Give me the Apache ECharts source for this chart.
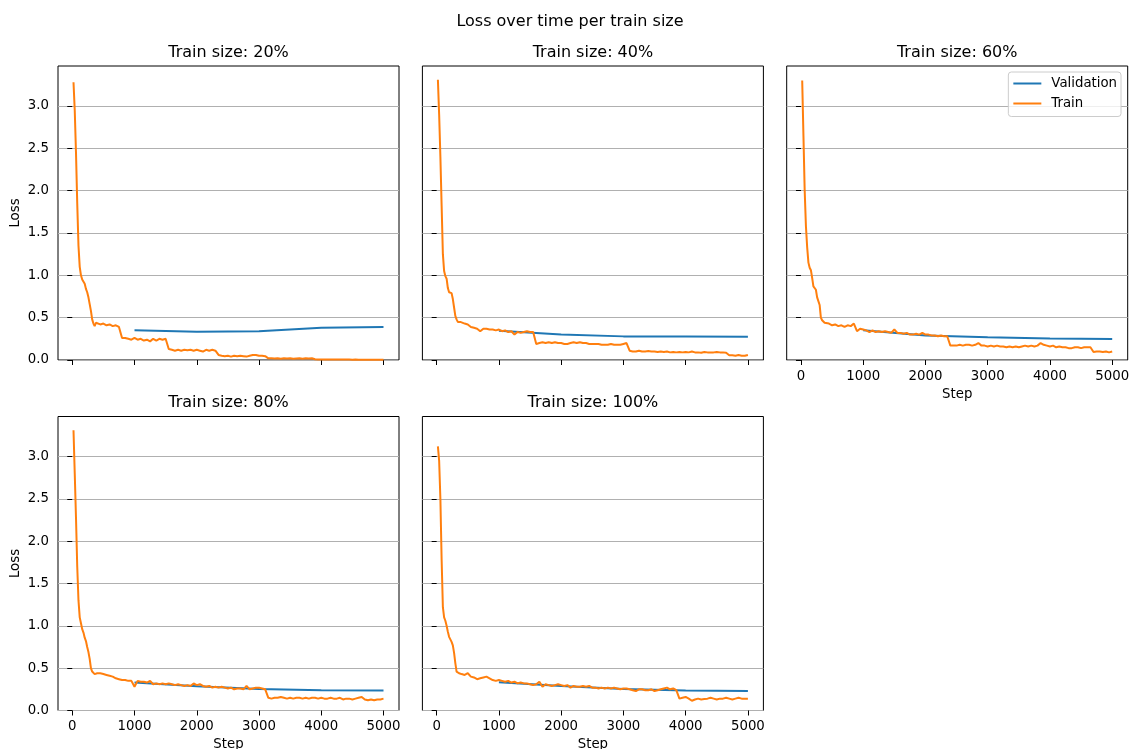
<!DOCTYPE html>
<html>
<head>
<meta charset="utf-8">
<title>Loss over time per train size</title>
<script src="https://cdn.jsdelivr.net/npm/echarts@6.0.0/dist/echarts.min.js"></script>
<style>
  html, body { margin: 0; padding: 0; background: #ffffff; }
  #chart { width: 1130px; height: 749px; }
</style>
</head>
<body>
<div id="chart"></div>
<script>
// Training steps at which the train loss was logged
const trainSteps = [
  20, 40, 60, 80, 100, 120, 140, 160, 180, 200,
  220, 240, 260, 280, 300, 320, 340, 360, 380, 400,
  450, 500, 550, 600, 650, 700, 750, 800, 850, 900,
  950, 1000, 1050, 1100, 1150, 1200, 1250, 1300, 1350, 1400,
  1450, 1500, 1550, 1600, 1650, 1700, 1750, 1800, 1850, 1900,
  1950, 2000, 2050, 2100, 2150, 2200, 2250, 2300, 2350, 2400,
  2450, 2500, 2550, 2600, 2650, 2700, 2750, 2800, 2850, 2900,
  2950, 3000, 3050, 3100, 3150, 3200, 3250, 3300, 3350, 3400,
  3450, 3500, 3550, 3600, 3650, 3700, 3750, 3800, 3850, 3900,
  3950, 4000, 4050, 4100, 4150, 4200, 4250, 4300, 4350, 4400,
  4450, 4500, 4550, 4600, 4650, 4700, 4750, 4800, 4850, 4900,
  4950, 5000
];

// Steps at which validation loss was evaluated
const valSteps = [1000, 2000, 3000, 4000, 5000];

const trainSizes = ['20%', '40%', '60%', '80%', '100%'];

const train20 = [
  3.28, 2.95, 2.45, 1.85, 1.35, 1.10, 1.00, 0.95, 0.93, 0.90,
  0.84, 0.80, 0.74, 0.66, 0.58, 0.48, 0.43, 0.40, 0.44, 0.45,
  0.42, 0.43, 0.41, 0.42, 0.40, 0.41, 0.39, 0.26, 0.26, 0.25,
  0.24, 0.26, 0.24, 0.25, 0.23, 0.24, 0.22, 0.25, 0.23, 0.25,
  0.24, 0.25, 0.13, 0.12, 0.11, 0.12, 0.11, 0.12, 0.115, 0.12,
  0.11, 0.12, 0.11, 0.10, 0.12, 0.11, 0.12, 0.11, 0.06, 0.05,
  0.045, 0.05, 0.04, 0.05, 0.045, 0.05, 0.045, 0.04, 0.05, 0.06,
  0.06, 0.05, 0.05, 0.045, 0.02, 0.02, 0.018, 0.02, 0.015, 0.02,
  0.018, 0.02, 0.015, 0.018, 0.02, 0.015, 0.02, 0.018, 0.02, 0.008,
  0.006, 0.007, 0.005, 0.006, 0.005, 0.006, 0.005, 0.005, 0.006, 0.005,
  0.005, 0.004, 0.005, 0.004, 0.004, 0.004, 0.004, 0.003, 0.004, 0.003,
  0.003, 0.003
];
const train40 = [
  3.31, 2.90, 2.40, 1.82, 1.25, 1.05, 0.99, 0.96, 0.85, 0.80,
  0.82, 0.79, 0.72, 0.62, 0.52, 0.48, 0.45, 0.44, 0.45, 0.47,
  0.43, 0.42, 0.39, 0.38, 0.37, 0.34, 0.37, 0.37, 0.36, 0.36,
  0.35, 0.36, 0.34, 0.35, 0.33, 0.34, 0.30, 0.33, 0.32, 0.33,
  0.34, 0.33, 0.33, 0.19, 0.20, 0.21, 0.20, 0.21, 0.20, 0.21,
  0.20, 0.20, 0.19, 0.19, 0.20, 0.21, 0.20, 0.21, 0.20, 0.20,
  0.19, 0.19, 0.19, 0.19, 0.18, 0.18, 0.18, 0.19, 0.18, 0.18,
  0.18, 0.19, 0.20, 0.11, 0.10, 0.10, 0.11, 0.10, 0.10, 0.105,
  0.10, 0.10, 0.095, 0.10, 0.095, 0.10, 0.09, 0.095, 0.09, 0.095,
  0.09, 0.095, 0.09, 0.10, 0.09, 0.09, 0.085, 0.095, 0.09, 0.09,
  0.09, 0.095, 0.09, 0.09, 0.085, 0.055, 0.055, 0.05, 0.06, 0.05,
  0.05, 0.06
];
const train60 = [
  3.30, 2.65, 2.00, 1.58, 1.33, 1.15, 1.09, 1.06, 0.97, 0.87,
  0.86, 0.83, 0.74, 0.73, 0.65, 0.50, 0.47, 0.45, 0.44, 0.46,
  0.43, 0.41, 0.42, 0.40, 0.41, 0.39, 0.41, 0.40, 0.43, 0.34,
  0.37, 0.36, 0.35, 0.33, 0.35, 0.33, 0.34, 0.33, 0.34, 0.33,
  0.32, 0.36, 0.32, 0.32, 0.31, 0.32, 0.30, 0.30, 0.31, 0.30,
  0.32, 0.30, 0.30, 0.29, 0.29, 0.28, 0.29, 0.28, 0.28, 0.17,
  0.17, 0.17, 0.18, 0.17, 0.18, 0.18, 0.17, 0.18, 0.20, 0.17,
  0.17, 0.16, 0.17, 0.16, 0.17, 0.16, 0.16, 0.15, 0.16, 0.15,
  0.16, 0.15, 0.16, 0.17, 0.16, 0.17, 0.16, 0.17, 0.20, 0.18,
  0.17, 0.16, 0.17, 0.15, 0.16, 0.15, 0.15, 0.14, 0.14, 0.15,
  0.15, 0.14, 0.15, 0.15, 0.15, 0.095, 0.10, 0.10, 0.095, 0.10,
  0.09, 0.10
];
const train80 = [
  3.31, 2.80, 2.28, 1.70, 1.30, 1.10, 1.03, 0.96, 0.92, 0.86,
  0.82, 0.75, 0.69, 0.61, 0.50, 0.46, 0.44, 0.43, 0.43, 0.44,
  0.44, 0.43, 0.42, 0.41, 0.40, 0.38, 0.37, 0.36, 0.36, 0.35,
  0.35, 0.28, 0.35, 0.34, 0.34, 0.33, 0.35, 0.31, 0.32, 0.31,
  0.32, 0.31, 0.32, 0.31, 0.30, 0.31, 0.30, 0.29, 0.30, 0.29,
  0.32, 0.30, 0.31, 0.29, 0.28, 0.29, 0.27, 0.28, 0.27, 0.28,
  0.27, 0.26, 0.27, 0.25, 0.26, 0.26, 0.25, 0.29, 0.25, 0.26,
  0.27, 0.27, 0.26, 0.25, 0.15, 0.14, 0.15, 0.15, 0.16, 0.15,
  0.14, 0.15, 0.14, 0.15, 0.15, 0.14, 0.15, 0.14, 0.15, 0.15,
  0.14, 0.15, 0.14, 0.14, 0.15, 0.14, 0.14, 0.15, 0.13, 0.14,
  0.14, 0.13, 0.14, 0.15, 0.16, 0.13, 0.12, 0.13, 0.12, 0.13,
  0.13, 0.14
];
const train100 = [
  3.12, 2.95, 2.50, 1.78, 1.22, 1.10, 1.06, 1.00, 0.93, 0.87,
  0.84, 0.81, 0.77, 0.68, 0.56, 0.46, 0.45, 0.44, 0.43, 0.43,
  0.42, 0.44, 0.40, 0.39, 0.37, 0.38, 0.39, 0.40, 0.38, 0.36,
  0.35, 0.36, 0.35, 0.34, 0.35, 0.33, 0.34, 0.32, 0.33, 0.32,
  0.32, 0.31, 0.30, 0.31, 0.34, 0.28, 0.31, 0.30, 0.29, 0.30,
  0.31, 0.30, 0.29, 0.30, 0.27, 0.29, 0.28, 0.28, 0.29, 0.28,
  0.29, 0.27, 0.27, 0.26, 0.27, 0.26, 0.27, 0.26, 0.27, 0.26,
  0.25, 0.26, 0.26, 0.25, 0.24, 0.23, 0.25, 0.25, 0.24, 0.24,
  0.25, 0.23, 0.24, 0.25, 0.26, 0.27, 0.25, 0.26, 0.24, 0.14,
  0.15, 0.16, 0.14, 0.115, 0.13, 0.14, 0.13, 0.135, 0.14, 0.15,
  0.14, 0.13, 0.14, 0.14, 0.15, 0.14, 0.13, 0.14, 0.15, 0.14,
  0.14, 0.14
];

const val20 = [0.35, 0.335, 0.34, 0.38, 0.39];
const val40 = [0.346, 0.30, 0.279, 0.277, 0.276];
const val60 = [0.35, 0.29, 0.27, 0.255, 0.248];
const val80 = [0.33, 0.285, 0.255, 0.24, 0.235];
const val100 = [0.335, 0.29, 0.255, 0.235, 0.23];

const xTickValues = [0, 1000, 2000, 3000, 4000, 5000];
const yTickValues = [0, 0.5, 1.0, 1.5, 2.0, 2.5, 3.0];

const trainSeries = [train20, train40, train60, train80, train100];
const valSeries = [val20, val40, val60, val80, val100];

// Panel layout (2 x 3 grid, last cell empty)
const FONT = 'DejaVu Sans, sans-serif';
const panelW = 341, panelH = 294;
const panels = [
  { left: 58,    top: 66,    showXLabels: false, showYLabels: true,  xName: '',     yName: 'Loss' },
  { left: 422.4, top: 66,    showXLabels: false, showYLabels: false, xName: '',     yName: '' },
  { left: 786.7, top: 66,    showXLabels: true,  showYLabels: false, xName: 'Step', yName: '' },
  { left: 58,    top: 416.5, showXLabels: true,  showYLabels: true,  xName: 'Step', yName: 'Loss' },
  { left: 422.4, top: 416.5, showXLabels: true,  showYLabels: false, xName: 'Step', yName: '' }
];

const X_MIN = -229, X_MAX = 5249;
const Y_MIN = 0, Y_MAX = 3.472;
const LINE_W = 2;

const grids = [], xAxes = [], yAxes = [], series = [], texts = [];

panels.forEach((p, i) => {
  grids.push({
    left: p.left, top: p.top, width: panelW, height: panelH,
    outerBoundsMode: 'none', containLabel: false,
    show: true, borderColor: '#000000', borderWidth: 1, backgroundColor: 'transparent'
  });
  xAxes.push({
    type: 'value', gridIndex: i, min: X_MIN, max: X_MAX,
    name: p.xName, nameLocation: 'middle', nameGap: 28,
    nameTextStyle: { fontFamily: FONT, fontSize: 13.3, color: '#000' },
    axisLine: { show: false },
    axisTick: { show: true, length: 5, inside: false, customValues: xTickValues,
                lineStyle: { color: '#000', width: 1 } },
    axisLabel: { show: p.showXLabels, customValues: xTickValues, margin: 10,
                 fontFamily: FONT, fontSize: 13.3, color: '#000',
                 formatter: v => String(Math.round(v)) },
    splitLine: { show: false }
  });
  yAxes.push({
    type: 'value', gridIndex: i, min: Y_MIN, max: Y_MAX,
    name: p.yName, nameLocation: 'middle', nameGap: 36, nameRotate: 90,
    nameTextStyle: { fontFamily: FONT, fontSize: 13.3, color: '#000' },
    axisLine: { show: false },
    axisTick: { show: true, length: 5, inside: false, customValues: yTickValues,
                lineStyle: { color: '#000', width: 1 } },
    axisLabel: { show: p.showYLabels, customValues: yTickValues, margin: 9,
                 fontFamily: FONT, fontSize: 13.3, color: '#000',
                 formatter: v => v.toFixed(1) },
    splitLine: { show: true, lineStyle: { color: '#b0b0b0', width: 1 } }
  });
  series.push({
    name: 'Validation', type: 'line', xAxisIndex: i, yAxisIndex: i,
    data: valSteps.map((s, k) => [s, valSeries[i][k]]),
    symbol: 'none', showSymbol: false, smooth: false,
    lineStyle: { color: '#1f77b4', width: LINE_W }, itemStyle: { color: '#1f77b4' },
    z: 3
  });
  series.push({
    name: 'Train', type: 'line', xAxisIndex: i, yAxisIndex: i,
    data: trainSteps.map((s, k) => [s, trainSeries[i][k]]),
    symbol: 'none', showSymbol: false, smooth: false,
    lineStyle: { color: '#ff7f0e', width: LINE_W }, itemStyle: { color: '#ff7f0e' },
    z: 4
  });
  texts.push({
    type: 'text', x: p.left + panelW / 2, y: p.top - 13.5,
    style: { text: 'Train size: ' + trainSizes[i], fontFamily: FONT, fontSize: 16,
             fill: '#000', align: 'center', verticalAlign: 'middle' }
  });
});

texts.push({
  type: 'text', x: 570, y: 21.5,
  style: { text: 'Loss over time per train size', fontFamily: FONT, fontSize: 16,
           fill: '#000', align: 'center', verticalAlign: 'middle' }
});

const chart = echarts.init(document.getElementById('chart'), null, { renderer: 'canvas' });
chart.setOption({
  animation: false,
  backgroundColor: '#ffffff',
  textStyle: { fontFamily: FONT },
  grid: grids,
  xAxis: xAxes,
  yAxis: yAxes,
  series: series,
  legend: {
    data: ['Validation', 'Train'],
    orient: 'vertical',
    right: 9, top: 72,
    icon: 'rect',
    itemWidth: 28, itemHeight: 2, itemGap: 4,
    padding: [3.5, 4, 5, 5],
    backgroundColor: 'rgba(255,255,255,0.8)',
    borderColor: '#cccccc', borderWidth: 1, borderRadius: 3,
    textStyle: { fontFamily: FONT, fontSize: 13.3, lineHeight: 16, color: '#000', padding: [0, 0, 0, 5] },
    selectedMode: false
  },
  graphic: texts
});
</script>
</body>
</html>
